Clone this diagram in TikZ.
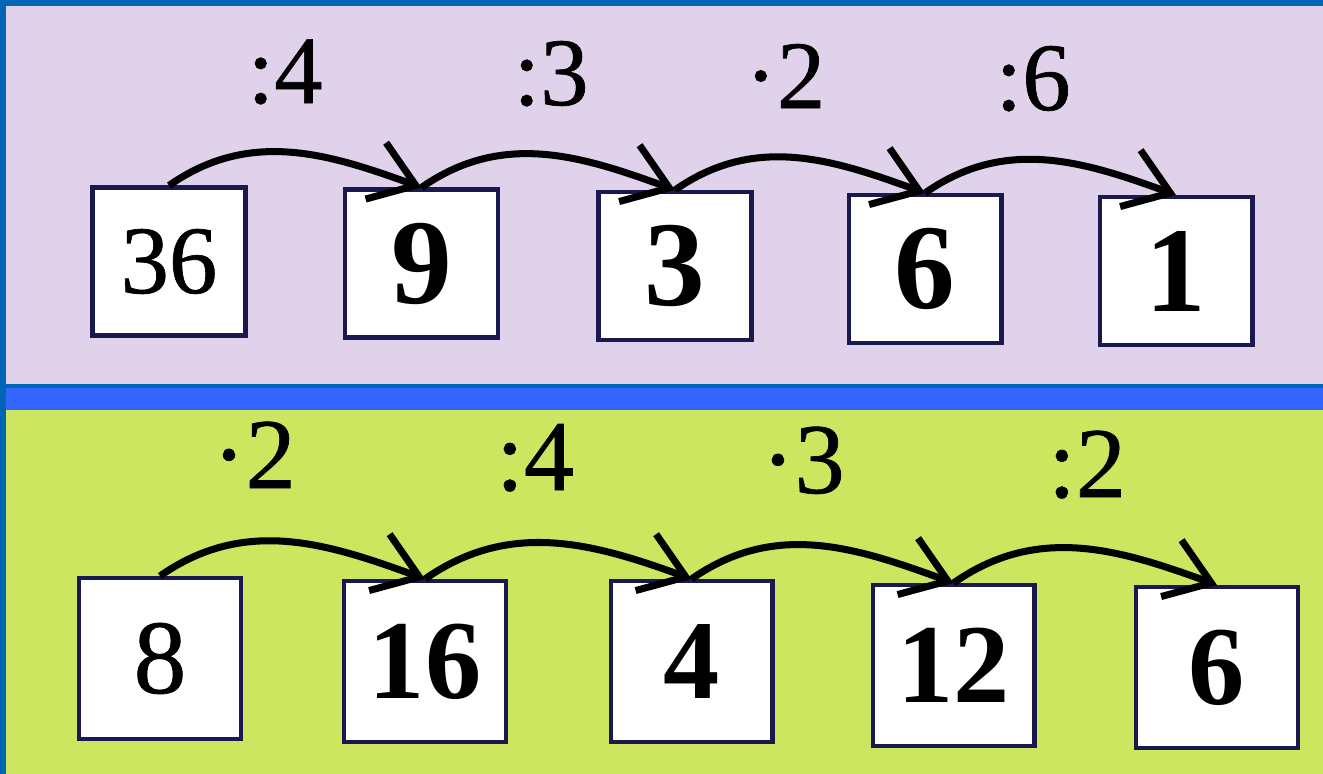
\documentclass[tikz,border=0pt]{standalone}
\usepackage{fontspec}
\setmainfont{Liberation Serif}
\newfontfamily\heavyserif[FakeBold=0.7]{Liberation Serif}
\usetikzlibrary{arrows.meta}

\definecolor{frameblue}{RGB}{0,102,179}
\definecolor{bandblue}{RGB}{51,102,255}
\definecolor{lilacbg}{RGB}{225,210,236}
\definecolor{limebg}{RGB}{204,230,96}
\definecolor{boxline}{RGB}{25,25,80}

\begin{document}
\begin{tikzpicture}
            [x=0.02cm, y=-0.02cm, >={Straight Barb[length=8.5mm,width=12mm]},
             numbox/.style={draw=boxline, fill=white, line width=2.3pt, inner sep=0pt},
             topbox/.style={numbox, minimum width=3.06cm, minimum height=2.96cm},
             lowbox/.style={numbox, minimum width=3.24cm, minimum height=3.22cm},
             thinnum/.style={font=\heavyserif\fontsize{55}{60}\selectfont},
             boldnum/.style={font=\fontsize{69}{74}\selectfont\bfseries},
             lowthin/.style={font=\heavyserif\fontsize{60}{66}\selectfont},
             lowbold/.style={font=\fontsize{64}{70}\selectfont\bfseries},
             oplabel/.style={anchor=base, inner sep=0pt, font=\heavyserif\fontsize{55}{60}\selectfont},
             jump/.style={->, line width=4pt, out=35, in=160}]
            % panels
            \fill[frameblue] (0,0) rectangle (1323,774);
            \fill[lilacbg] (6,6) rectangle (1323,384);
            \fill[bandblue] (6,388) rectangle (1323,410);
            \fill[limebg] (6,410) rectangle (1323,774);

            % upper chain
            \node[topbox, thinnum] (r1) at (169,261.5) {36};
            \node[topbox, boldnum] (r2) at (421.5,263.5) {9};
            \node[topbox, boldnum] (r3) at (675,266) {3};
            \node[topbox, boldnum] (r4) at (925,269) {6};
            \node[topbox, boldnum] (r5) at (1176,271) {1};

            \node[oplabel] (r1op) at (285,103) {:4};
            \node[oplabel] (r2op) at (551,105) {:3};
            \node[oplabel] (r3op) at (785,108) {·2};
            \node[oplabel] (r4op) at (1033,110) {:6};

            \path (r1.north) edge[jump] (r2.north);
            \path (r2.north) edge[jump] (r3.north);
            \path (r3.north) edge[jump] (r4.north);
            \path (r4.north) edge[jump] (r5.north);

            % lower chain
            \node[lowbox, lowthin] (s1) at (160,658.5) {8};
            \node[lowbox, lowbold] (s2) at (425,661.5) {16};
            \node[lowbox, lowbold] (s3) at (691.5,661.5) {4};
            \node[lowbox, lowbold] (s4) at (953.5,665.5) {12};
            \node[lowbox, lowbold] (s5) at (1217,667.5) {6};

            \node[oplabel, font=\heavyserif\fontsize{57}{62}\selectfont] (s1op) at (254,488) {·2};
            \node[oplabel, font=\heavyserif\fontsize{57}{62}\selectfont] (s2op) at (535,490) {:4};
            \node[oplabel, font=\heavyserif\fontsize{57}{62}\selectfont] (s3op) at (803,493) {·3};
            \node[oplabel, font=\heavyserif\fontsize{57}{62}\selectfont] (s4op) at (1087,497) {:2};

            \path (s1.north) edge[jump] (s2.north);
            \path (s2.north) edge[jump] (s3.north);
            \path (s3.north) edge[jump] (s4.north);
            \path (s4.north) edge[jump] (s5.north);
        \end{tikzpicture}
\end{document}
